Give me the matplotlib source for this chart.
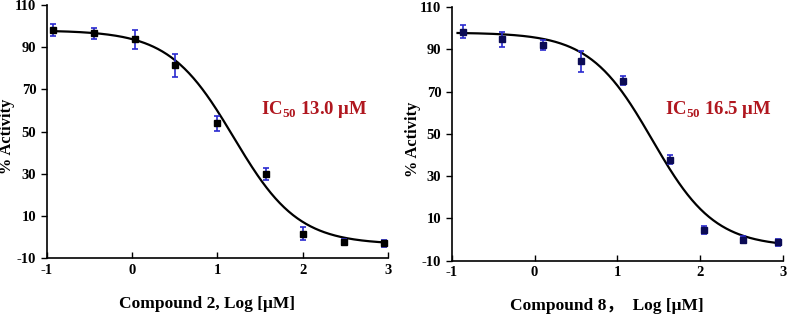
import numpy as np
import matplotlib
matplotlib.use('Agg')
import matplotlib.pyplot as plt

plt.rcParams['font.family'] = ['Liberation Serif', 'Noto Sans CJK SC']
plt.rcParams['font.weight'] = 'bold'
plt.rcParams['axes.unicode_minus'] = False
plt.rcParams['mathtext.fontset'] = 'custom'
plt.rcParams['mathtext.rm'] = 'Liberation Serif:bold'
plt.rcParams['mathtext.bf'] = 'Liberation Serif:bold'

# compound 2 (left)
x2 = [-0.93, -0.44, 0.04, 0.50, 1.00, 1.57, 2.00, 2.48, 2.95]
y2 = [98.1, 96.6, 93.7, 81.5, 54.0, 29.9, 1.6, -2.4, -3.0]
e2 = [3.0, 2.5, 4.5, 5.5, 3.5, 3.0, 3.0, 1.5, 1.5]
fit2 = dict(top=98.0, bottom=-3.5, logic50=1.19, hill=1.15)

# compound 8 (right)
x8 = [-0.87, -0.39, 0.10, 0.56, 1.07, 1.63, 2.04, 2.52, 2.94]
y8 = [98.5, 94.8, 92.1, 84.3, 75.2, 37.8, 4.5, 0.0, -1.4]
e8 = [3.0, 3.5, 2.5, 5.0, 2.0, 2.0, 2.0, 1.5, 1.5]
fit8 = dict(top=98.0, bottom=-3.5, logic50=1.42, hill=1.15)

xlabels = ['Compound 2, Log [μM]', 'Compound 8，  Log [μM]']
ic50_text = ['IC$_{50}$ 13.0 μM', 'IC$_{50}$ 16.5 μM']
marker_colors = ['black', '#0b0b55']


def four_pl(x, top, bottom, logic50, hill):
    return bottom + (top - bottom) / (1 + 10 ** ((x - logic50) * hill))


fig = plt.figure(figsize=(7.87, 3.14), dpi=100)
ax1 = fig.add_axes([0.0593, 0.178, 0.434, 0.806])
ax2 = fig.add_axes([0.574, 0.170, 0.421, 0.807])

panels = [(ax1, x2, y2, e2, fit2), (ax2, x8, y8, e8, fit8)]
text_pos = [(0.628, 0.568), (0.643, 0.579)]
for i, (ax, x, y, e, fit) in enumerate(panels):
    xs = np.linspace(-0.93, 2.95, 300)
    ax.plot(xs, four_pl(xs, **fit), color='black', lw=1.6, zorder=2)
    ax.errorbar(x, y, yerr=e, fmt='s', color=marker_colors[i], ms=5,
                ecolor='#2a2ad0', elinewidth=1.2, capsize=2.5, capthick=1.2,
                zorder=3)
    ax.set_xlim(-1, 3)
    ax.set_ylim(-10, 110)
    ax.set_xticks([-1, 0, 1, 2, 3])
    ax.set_yticks(np.arange(-10, 111, 20))
    ax.spines['top'].set_visible(False)
    ax.spines['right'].set_visible(False)
    ax.spines['left'].set_linewidth(1.2)
    ax.spines['bottom'].set_linewidth(1.2)
    ax.tick_params(axis='x', direction='in', length=4, width=1, labelsize=10.5, pad=4)
    ax.tick_params(axis='y', direction='out', length=4, width=1, labelsize=10.5)
    ax.set_xlabel(xlabels[i], fontsize=12.5, fontweight='bold')
    ax.xaxis.set_label_coords(0.468, -0.148)
    ax.set_ylabel('% Activity', fontsize=11.8, fontweight='bold')
    ax.yaxis.set_label_coords(-0.094, 0.48)
    ax.text(text_pos[i][0], text_pos[i][1], ic50_text[i], transform=ax.transAxes,
            fontsize=13.5, color='#b0171f', fontweight='bold', va='baseline')

fig.savefig('out.png', dpi=100)
